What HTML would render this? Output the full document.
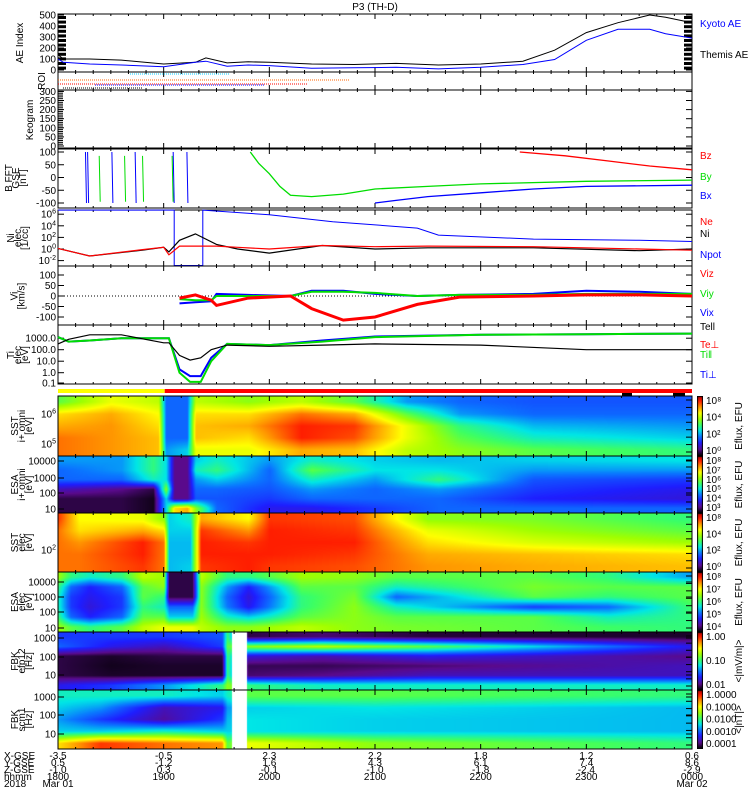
<!DOCTYPE html>
<html><head><meta charset="utf-8">
<style>
html,body{margin:0;padding:0;background:#fff;}
#wrap{position:relative;width:750px;height:800px;overflow:hidden;font-family:"Liberation Sans",sans-serif;}
canvas{position:absolute;}
svg{position:absolute;left:0;top:0;}
text{font-family:"Liberation Sans",sans-serif;font-size:10px;}
</style></head>
<body>
<div id="wrap">
<svg id="svg" width="750" height="800"></svg>
</div>
<script>
// ---------- DATA ----------
const aeT=[0,0.05,0.3,0.6,1.0,1.3,1.4,1.6,1.8,2.0,2.4,2.8,3.2,3.6,4.0,4.4,4.7,5.0,5.3,5.6,5.75,6.0];
const themisAE=[140,100,100,90,55,70,110,65,75,70,55,50,60,45,55,80,180,340,430,500,480,430];
const kyotoAE=[100,70,55,45,30,70,80,35,45,40,15,20,25,10,25,50,95,270,370,370,330,290];
const bxSpikes=[0.26,0.28,0.51,0.73,1.09,1.22];
const bySpikes=[0.39,0.63,0.80,1.08];
const byT=[1.82,1.9,2.0,2.1,2.2,2.4,2.7,3.0,3.5,4.0,5.0,6.0];
const byV=[100,55,15,-35,-70,-75,-65,-45,-35,-25,-15,-10];
const bxT=[3.0,3.2,3.5,4.0,4.5,5.0,6.0];
const bxV=[-100,-90,-75,-60,-45,-35,-30];
const bzT=[4.37,4.8,5.2,5.6,6.0];
const bzV=[100,85,65,45,30];
const nT=[0,0.3,0.8,1.0,1.05,1.15,1.3,1.5,1.7,2.0,2.5,3.0,3.5,4.5,5.5,6.0];
const niV=[0.1,-1.2,-0.2,0.3,-0.5,1.5,2.6,0.8,0,-0.7,0.6,0.0,0.2,0.2,-0.3,0];
const neV=[0.1,-1.2,-0.1,0.3,-1.0,0.5,0.5,0.5,0.3,0.0,0.6,0.4,0.5,0.4,0.0,-0.2];
const npotT=[0,1.1,1.1,1.37,1.37,2.0,2.6,3.4,3.6,4.5,5.5,6.0];
const npotV=[6.7,6.7,-3,-3,6.7,5.9,4.7,3.6,2.4,1.7,1.5,1.3];
const vT=[1.15,1.3,1.45,1.5,1.8,2.2,2.4,2.7,3.0,3.4,3.8,4.5,5.0,5.5,6.0];
const vizV=[-10,5,-20,-45,-10,0,-60,-115,-100,-40,-5,0,5,5,0];
const vixV=[-35,-30,-25,10,5,0,25,25,10,0,5,10,25,20,10];
const viyV=[-15,-20,-20,0,0,0,20,20,15,0,5,5,10,10,10];
const tT=[0,0.1,0.3,0.6,1.0,1.05,1.15,1.25,1.35,1.45,1.6,2.0,2.5,3.0,4.0,5.0,6.0];
const tiPar=[3.1,2.7,2.8,3.0,3.0,3.0,0.0,-0.8,-0.8,1.0,2.5,2.4,2.7,3.1,3.3,3.35,3.4];
const tiPerp=[3.1,2.7,2.8,3.0,3.0,3.0,0.3,-0.3,-0.3,1.3,2.5,2.4,2.8,3.15,3.3,3.35,3.4];
const tePar=[2.5,2.9,3.3,3.3,2.6,2.6,1.5,1.1,1.3,2.0,2.4,2.3,2.4,2.5,2.4,2.0,2.0];
const sstiT=[0,0.5,0.95,1.02,1.22,1.3,1.8,2.3,2.8,3.3,3.8,4.5,6];
const sstiZ=[[0.55,0.75,0.8,0.85,0.85],[0.7,0.8,0.82,0.82,0.82],[0.65,0.72,0.75,0.78,0.78],[0.3,0.3,0.3,0.3,0.35],[0.3,0.3,0.3,0.3,0.4],[0.65,0.75,0.78,0.78,0.7],[0.6,0.75,0.8,0.75,0.7],[0.65,0.85,0.92,0.92,0.8],[0.55,0.8,0.9,0.88,0.78],[0.35,0.55,0.7,0.7,0.65],[0.3,0.35,0.5,0.55,0.6],[0.28,0.3,0.38,0.45,0.55],[0.28,0.3,0.35,0.4,0.5]];
const esaiT=[0,0.6,0.9,1.02,1.1,1.22,1.3,1.5,2.0,2.4,3.0,3.6,4.5,6];
const esaiZ=[[0.35,0.3,0.3,0.15,0.05,0.05],[0.35,0.35,0.3,0.1,0.05,0.05],[0.5,0.5,0.45,0.05,0.02,0.02],[0.42,0.42,0.42,0.6,0.4,0.4],[0.1,0.1,0.1,0.1,0.1,0.75],[0.1,0.1,0.1,0.1,0.1,0.8],[0.4,0.45,0.35,0.3,0.28,0.6],[0.45,0.5,0.4,0.3,0.28,0.3],[0.35,0.3,0.3,0.28,0.25,0.2],[0.45,0.55,0.45,0.35,0.3,0.2],[0.4,0.42,0.35,0.3,0.3,0.25],[0.38,0.42,0.5,0.35,0.3,0.3],[0.4,0.35,0.28,0.25,0.22,0.3],[0.42,0.35,0.25,0.2,0.18,0.3]];
const ssteT=[0,0.2,0.8,1.0,1.05,1.25,1.35,1.8,2.0,2.8,3.5,4.5,6];
const ssteZ=[[0.9,0.85,0.85,0.85,0.85],[0.72,0.75,0.82,0.85,0.85],[0.7,0.8,0.92,0.92,0.9],[0.6,0.75,0.85,0.85,0.85],[0.4,0.4,0.38,0.38,0.38],[0.45,0.4,0.38,0.38,0.4],[0.8,0.9,0.92,0.92,0.9],[0.72,0.82,0.9,0.92,0.92],[0.9,0.92,0.92,0.92,0.9],[0.88,0.9,0.92,0.9,0.88],[0.6,0.7,0.75,0.8,0.82],[0.58,0.62,0.68,0.78,0.8],[0.5,0.55,0.62,0.75,0.78]];
const esaeT=[0,0.12,0.3,0.6,0.8,1.0,1.05,1.27,1.35,1.6,1.8,2.0,2.3,2.8,3.2,4.5,5.2,6];
const esaeZ=[[0.62,0.5,0.45,0.45,0.5,0.62],[0.5,0.3,0.25,0.25,0.3,0.55],[0.45,0.22,0.2,0.18,0.22,0.5],[0.5,0.3,0.25,0.25,0.3,0.55],[0.65,0.55,0.55,0.5,0.55,0.65],[0.62,0.6,0.5,0.45,0.55,0.7],[0.05,0.05,0.05,0.3,0.4,0.7],[0.05,0.05,0.05,0.3,0.4,0.7],[0.65,0.6,0.6,0.6,0.62,0.65],[0.5,0.35,0.3,0.32,0.45,0.6],[0.5,0.22,0.18,0.2,0.4,0.6],[0.55,0.35,0.3,0.32,0.45,0.62],[0.62,0.55,0.5,0.5,0.55,0.65],[0.6,0.55,0.58,0.6,0.6,0.6],[0.55,0.45,0.3,0.45,0.55,0.58],[0.55,0.58,0.55,0.25,0.55,0.55],[0.5,0.55,0.5,0.3,0.45,0.52],[0.35,0.55,0.55,0.52,0.5,0.5]];
const fbkeT=[0,0.5,1.0,1.55,1.6,1.8,2.5,3.5,6];
const fbkeZ=[[0.25,0.3,0.05,0.05,0.05,0.2],[0.25,0.2,0.03,0.02,0.03,0.25],[0.25,0.15,0.05,0.03,0.03,0.35],[0.28,0.25,0.05,0.03,0.03,0.5],[0.5,0.55,0.5,0.5,0.5,0.6],[0.05,0.6,0.18,0.06,0.08,0.5],[0.08,0.65,0.14,0.06,0.1,0.45],[0.04,0.55,0.2,0.08,0.15,0.45],[0.03,0.2,0.1,0.15,0.15,0.45]];
const fbkbT=[0,0.4,1.0,1.55,1.6,1.8,3,6];
const fbkbZ=[[0.45,0.4,0.35,0.4,0.75],[0.45,0.35,0.25,0.4,0.9],[0.45,0.15,0.12,0.45,0.85],[0.4,0.2,0.25,0.4,0.82],[0.45,0.35,0.38,0.4,0.55],[0.55,0.4,0.42,0.42,0.7],[0.55,0.42,0.4,0.4,0.6],[0.5,0.38,0.38,0.38,0.5]];
const fbkGap=[1.64,1.78];
const hhmm=["1800","1900","2000","2100","2200","2300","0000"];
const xgse=["-3.5","-0.5","2.3","2.2","1.8","1.2","0.6"];
const ygse=["0.5","-1.2","1.6","4.3","6.1","7.4","8.6"];
const zgse=["-1.0","0.3","-0.1","-1.0","-1.8","-2.4","-2.9"];

// ---------- HELPERS ----------
const X0=58,X1=692;
const NS="http://www.w3.org/2000/svg";
const svg=document.getElementById('svg');
const wrap=document.getElementById('wrap');
function xs(t){return X0+t*(X1-X0)/6;}
function el(tag,attrs,parent){const e=document.createElementNS(NS,tag);for(const k in attrs)e.setAttribute(k,attrs[k]);(parent||svg).appendChild(e);return e;}
function txt(x,y,s,attrs){const e=el('text',Object.assign({x:x,y:y},attrs||{}));e.textContent=s;return e;}
function interp(ts,vs,t){if(t<=ts[0])return vs[0];for(let i=1;i<ts.length;i++){if(t<=ts[i]){const f=(t-ts[i-1])/(ts[i]-ts[i-1]||1);return vs[i-1]+(vs[i]-vs[i-1])*f;}}return vs[vs.length-1];}
function poly(ts,vs,yf,color,w,name){
  const pts=ts.map((t,i)=>xs(t).toFixed(1)+','+yf(vs[i]).toFixed(1)).join(' ');
  const p=el('polyline',{points:pts,fill:'none',stroke:color,'stroke-width':w||1});
  
  
  return p;
}
const stops=[[0,[0,0,0]],[0.1,[90,10,140]],[0.22,[30,30,255]],[0.32,[10,120,255]],[0.42,[0,230,230]],[0.52,[60,255,100]],[0.62,[160,255,0]],[0.72,[255,255,0]],[0.82,[255,150,0]],[0.92,[255,30,0]],[1,[180,0,0]]];
function cmap(v){v=Math.max(0,Math.min(1,v));for(let i=1;i<stops.length;i++){if(v<=stops[i][0]){const a=stops[i-1],b=stops[i];const f=(v-a[0])/(b[0]-a[0]);return [0,1,2].map(k=>Math.round(a[1][k]+(b[1][k]-a[1][k])*f));}}return stops[stops.length-1][1];}
function makeCanvas(x,y,w,h,name){const c=document.createElement('canvas');c.width=w;c.height=h;c.style.left=x+'px';c.style.top=y+'px';
  
  
  wrap.insertBefore(c,svg);return c;}
function spectro(ts,Z,top,bot,name,gap){
  const w=X1-X0,h=bot-top;const c=makeCanvas(X0,top,w,h,name);const ctx=c.getContext('2d');const img=ctx.createImageData(w,h);
  const nr=Z[0].length;
  for(let px=0;px<w;px++){
    const t=px*6/w;
    const col=[];for(let r=0;r<nr;r++)col.push(interp(ts,Z.map(z=>z[r]),t));
    const inGap=gap&&t>=gap[0]&&t<=gap[1];
    for(let py=0;py<h;py++){
      const rp=(py+0.5)/h*nr-0.5;const r0=Math.max(0,Math.min(nr-1,Math.floor(rp)));const r1=Math.min(nr-1,r0+1);const f=Math.max(0,Math.min(1,rp-r0));
      const v=col[r0]+(col[r1]-col[r0])*f;
      const rgb=inGap?[255,255,255]:cmap(v);const i=(py*w+px)*4;img.data[i]=rgb[0];img.data[i+1]=rgb[1];img.data[i+2]=rgb[2];img.data[i+3]=255;}
  }
  ctx.putImageData(img,0,0);
}
function colorbar(top,bot,name){const h=bot-top;const c=makeCanvas(697,top,6,h,name);const ctx=c.getContext('2d');
  for(let py=0;py<h;py++){const rgb=cmap(1-py/(h-1));ctx.fillStyle='rgb('+rgb.join(',')+')';ctx.fillRect(0,py,6,1);}
  ctx.strokeStyle='#000';ctx.strokeRect(0.5,0.5,5,h-1);}
function frame(top,bot,name){const r=el('rect',{x:X0,y:top,width:X1-X0,height:bot-top,fill:'none',stroke:'#000','stroke-width':1});
  
  
  for(let k=0;k<=36;k++){const x=xs(k/6);const L=(k%6==0)?5:2;el('line',{x1:x,x2:x,y1:top,y2:top+L,stroke:'#000'});el('line',{x1:x,x2:x,y1:bot,y2:bot-L,stroke:'#000'});}}
function ytick(y,label){el('line',{x1:X0,x2:X0+6,y1:y,y2:y,stroke:'#000'});el('line',{x1:X1,x2:X1-6,y1:y,y2:y,stroke:'#000'});
  if(label!==null){txt(X0-2,y+3.5,label,{'text-anchor':'end','font-size':'10'});}}
function ylabelPow(y,exp){const t=el('text',{x:X0-2,y:y+3.5,'text-anchor':'end','font-size':'10'});t.textContent='10';const s=el('tspan',{dy:'-4','font-size':'7'},t);s.textContent=exp;}
function ltitle(cx,cy,lines,name){const g=el('g',{transform:'translate('+cx+','+cy+') rotate(-90)'});
  
  
  lines.forEach((s,i)=>{const t=el('text',{x:0,y:(i-(lines.length-1)/2)*7+3,'text-anchor':'middle','font-size':i==0?'9':'7'},g);t.textContent=s;});}
function rlabel(y,s,color,name){const t=txt(700,y,s,{fill:color,'font-size':'8.5'});
  
  }

// ---------- TITLE ----------
const title=txt(375,10,'P3 (TH-D)',{'text-anchor':'middle','font-size':'10'});



// ---------- AE ----------
{const top=14,bot=72;const yf=v=>70-v*0.11;
 frame(top,bot,'ae-panel');[0,100,200,300,400,500].forEach(v=>ytick(yf(v),String(v)));
 for(let k=0;k<12;k++){el('rect',{x:X0,y:16+k*4.6,width:8,height:3,fill:'#000'});el('rect',{x:X1-8,y:16+k*4.6,width:8,height:3,fill:'#000'});}
 poly(aeT,themisAE,yf,'#000',1,'themis-ae-line');poly(aeT,kyotoAE,yf,'#00f',1,'kyoto-ae-line');
 ltitle(20,43,['AE Index'],'ae-y-title');rlabel(27,'Kyoto AE','#00f','legend-kyoto-ae');rlabel(58,'Themis AE','#000','legend-themis-ae');}
// ---------- ROI ----------
{frame(72,90,'roi-panel');
 const rows=[[74,130,230,'#0cf'],[80,58,350,'#f60'],[84,58,308,'#f00'],[85,95,265,'#00f'],[88,63,142,'#000']];
 rows.forEach(r=>{const l=el('line',{x1:r[1],x2:r[2],y1:r[0],y2:r[0],stroke:r[3],'stroke-width':1,'stroke-dasharray':'1,1'});});
 ltitle(42,81,['ROI'],'roi-y-title');}
// ---------- KEOGRAM ----------
{const top=90,bot=148;frame(top,bot,'keogram-panel');const yf=v=>146-v*0.182;
 [0,50,100,150,200,250,300].forEach(v=>ytick(yf(v),String(v)));
 for(let v=0;v<=300;v+=10)el('line',{x1:X0,x2:X0+5,y1:yf(v),y2:yf(v),stroke:'#000'});
 ltitle(30,120,['Keogram'],'keogram-y-title');}
// ---------- B FFT ----------
{const top=149,bot=208;frame(top,bot,'bfft-panel');const yf=v=>177.5-v*0.255;
 [100,50,0,-50,-100].forEach(v=>ytick(yf(v),String(v)));
 bxSpikes.forEach(t=>{const l=el('line',{x1:xs(t),x2:xs(t)+1,y1:yf(100),y2:yf(-100),stroke:'#00f'});});
 bySpikes.forEach(t=>{const l=el('line',{x1:xs(t),x2:xs(t)+1,y1:yf(85),y2:yf(-95),stroke:'#0d0'});});
 poly(byT,byV,yf,'#0d0',1.3,'by-line');poly(bxT,bxV,yf,'#00f',1.3,'bx-line');poly(bzT,bzV,yf,'#f00',1.3,'bz-line');
 ltitle(16,178,['B FFT','GSE','[nT]'],'bfft-y-title');rlabel(159,'Bz','#f00','legend-bz');rlabel(180,'By','#0d0','legend-by');rlabel(199,'Bx','#00f','legend-bx');}
// ---------- Density ----------
{const top=210,bot=266;frame(top,bot,'density-panel');const yf=v=>Math.min(265.5,249-5.8*v);
 [6,4,2,0,-2].forEach(e=>{ytick(249-5.8*e,null);ylabelPow(249-5.8*e,String(e));});
 poly(npotT,npotV,yf,'#00f',1,'npot-line');poly(nT,niV,yf,'#000',1.2,'ni-line');poly(nT,neV,yf,'#f00',1.2,'ne-line');
 ltitle(18,238,['Ni','elec','[1/cc]'],'density-y-title');rlabel(225,'Ne','#f00','legend-ne');rlabel(237,'Ni','#000','legend-ni');rlabel(258,'Npot','#00f','legend-npot');}
// ---------- Velocity ----------
{const top=266,bot=325;frame(top,bot,'velocity-panel');const yf=v=>296-v*0.21;
 [100,50,0,-50,-100].forEach(v=>ytick(yf(v),String(v)));
 el('line',{x1:X0,x2:X1,y1:296,y2:296,stroke:'#000','stroke-dasharray':'1,2'});
 poly(vT,vixV,yf,'#00f',2,'vix-line');poly(vT,viyV,yf,'#0d0',2,'viy-line');poly(vT,vizV,yf,'#f00',3,'viz-line');
 ltitle(18,296,['Vi','[km/s]'],'velocity-y-title');rlabel(277,'Viz','#f00','legend-viz');rlabel(297,'Viy','#0d0','legend-viy');rlabel(316,'Vix','#00f','legend-vix');}
// ---------- Temperature ----------
{const top=325,bot=384;frame(top,bot,'temperature-panel');const yf=v=>Math.min(383,372.7-11.5*v);
 [[3,'1000.0'],[2,'100.0'],[1,'10.0'],[0,'1.0'],[-1,'0.1']].forEach(a=>ytick(yf(a[0]),a[1]));
 poly(tT,tiPerp,yf,'#00f',2,'ti-perp-line');poly(tT,tiPar,yf,'#0d0',2,'ti-par-line');poly(tT,tePar,yf,'#000',1.2,'te-par-line');
 ltitle(18,355,['Ti','elec','[eV]'],'temperature-y-title');rlabel(330,'Tell','#000','legend-te-par');rlabel(348,'Te⊥','#f00','legend-te-perp');rlabel(358,'Ti‖','#0d0','legend-ti-par');rlabel(378,'Ti⊥','#00f','legend-ti-perp');}
// ---------- mode bar ----------
{const a=el('rect',{x:X0,y:389,width:xs(1.01)-X0,height:4,fill:'#ff0'});
 const b=el('rect',{x:xs(1.01),y:389,width:X1-xs(1.01),height:4,fill:'#f00'});
 el('rect',{x:622,y:393,width:10,height:3,fill:'#000'});el('rect',{x:673,y:393,width:12,height:3,fill:'#000'});}
// ---------- Spectrograms ----------
const specs=[
 {T:sstiT,Z:sstiZ,top:396,bot:456,name:'sst-ion-spectrogram',title:['SST','i+ omni','[eV]'],cb:['10⁸','10⁴','10²','10⁰'],unit:'Eflux, EFU'},
 {T:esaiT,Z:esaiZ,top:456,bot:513,name:'esa-ion-spectrogram',title:['ESA','i+ omni','[eV]'],cb:['10⁸','10⁷','10⁶','10⁵','10⁴','10³'],unit:'Eflux, EFU'},
 {T:ssteT,Z:ssteZ,top:513,bot:572,name:'sst-elec-spectrogram',title:['SST','elec','[eV]'],cb:['10⁸','10⁴','10²','10⁰'],unit:'Eflux, EFU'},
 {T:esaeT,Z:esaeZ,top:572,bot:632,name:'esa-elec-spectrogram',title:['ESA','elec','[eV]'],cb:['10⁸','10⁷','10⁶','10⁵','10⁴'],unit:'Eflux, EFU'},
 {T:fbkeT,Z:fbkeZ,top:632,bot:690,name:'fbk-e-spectrogram',title:['FBK','efp12','[Hz]'],cb:['1.00','0.10','0.01'],unit:'<|mV/m|>',gap:fbkGap},
 {T:fbkbT,Z:fbkbZ,top:690,bot:749,name:'fbk-b-spectrogram',title:['FBK','scm1','[Hz]'],cb:['1.0000','0.1000','0.0100','0.0010','0.0001'],unit:'<|nT|>',gap:fbkGap}];
specs.forEach((s,i)=>{
 spectro(s.T,s.Z,s.top,s.bot,s.name,s.gap);
 frame(s.top,s.bot,s.name+'-frame');
 colorbar(s.top,s.bot,s.name+'-colorbar');
 const n=s.cb.length;
 s.cb.forEach((l,k)=>{txt(706,s.top+8+k*(s.bot-s.top-10)/Math.max(1,n-1),l,{'font-size':'9'});});
 const g=el('g',{transform:'translate('+(742)+','+((s.top+s.bot)/2)+') rotate(-90)'});
 const t=el('text',{x:0,y:0,'text-anchor':'middle','font-size':'9'},g);t.textContent=s.unit;
 ltitle(22,(s.top+s.bot)/2,s.title,s.name+'-y-title');
 for(let k=0;k<8;k++){el('line',{x1:X1-6,x2:X1,y1:s.top+4+k*(s.bot-s.top-8)/7,y2:s.top+4+k*(s.bot-s.top-8)/7,stroke:'#000'});}
});
ylabelPow(414,'6');ylabelPow(444,'5');
[[461,'10000'],[478,'1000'],[493,'100'],[509,'10']].forEach(a=>ytick(a[0],a[1]));
ylabelPow(550,'2');
[[582,'10000'],[597,'1000'],[612,'100'],[628,'10']].forEach(a=>ytick(a[0],a[1]));
[[638,'1000'],[657,'100'],[675,'10'],[697,'1000'],[715,'100'],[734,'10']].forEach(a=>ytick(a[0],a[1]));
// ---------- X axis annotations ----------
{const rows=[['X-GSE',xgse,759],['Y-GSE',ygse,766],['Z-GSE',zgse,773],['hhmm',hhmm,780]];
 rows.forEach(r=>{const l=txt(4,r[2],r[0],{'font-size':'9'});
   r[1].forEach((v,k)=>{const t=txt(xs(k),r[2],v,{'text-anchor':'middle','font-size':'9'});});});
 txt(4,787,'2018',{'font-size':'9'});txt(xs(0),787,'Mar 01',{'text-anchor':'middle','font-size':'9'});txt(xs(6),787,'Mar 02',{'text-anchor':'middle','font-size':'9'});}
</script>
</body></html>
